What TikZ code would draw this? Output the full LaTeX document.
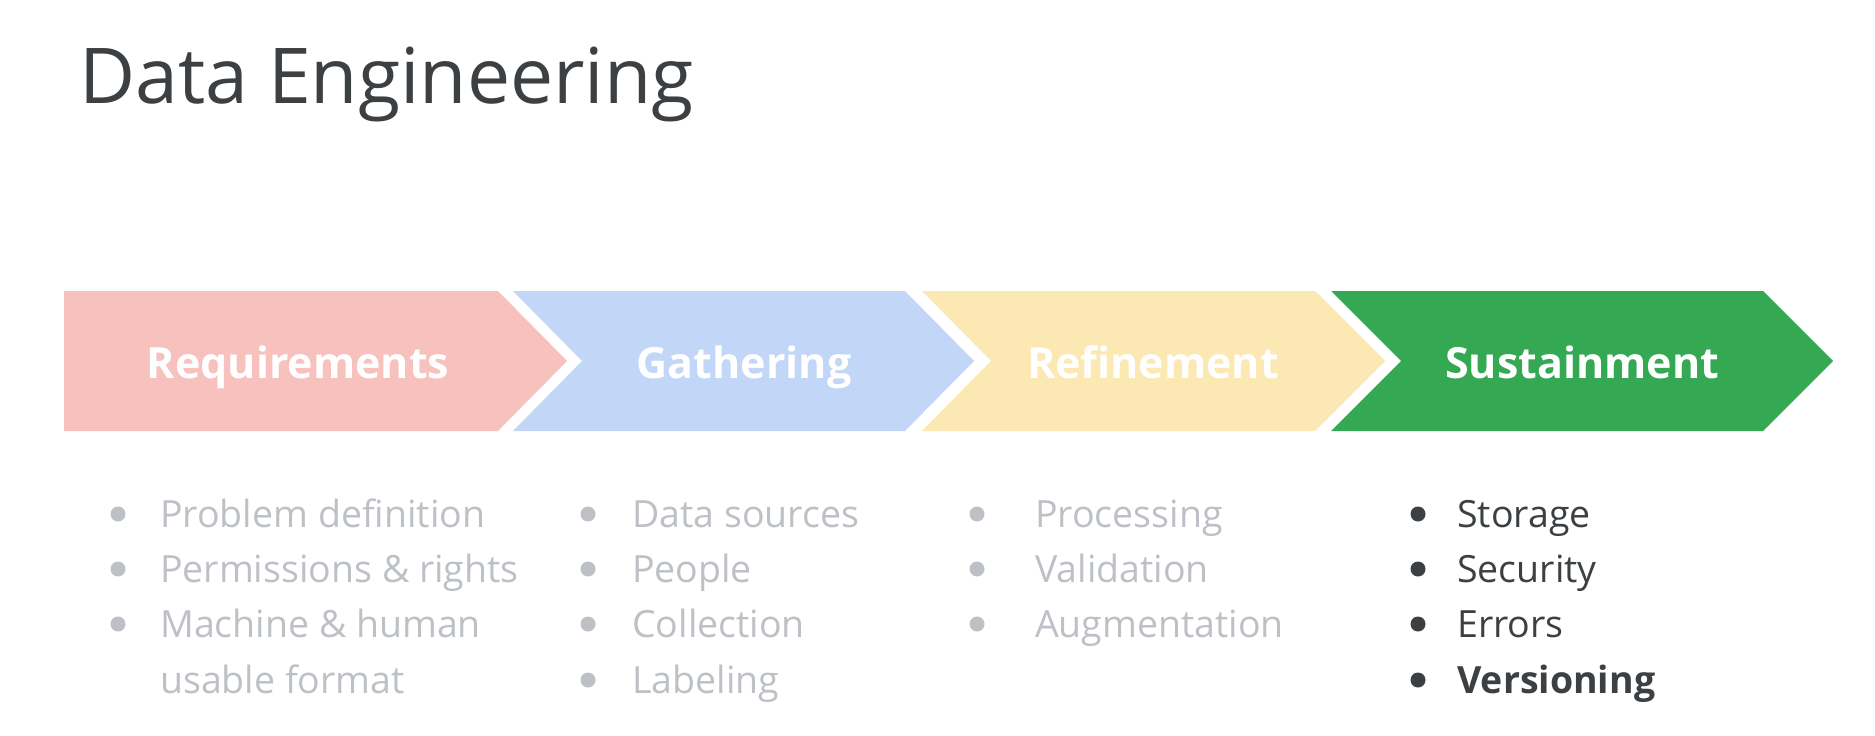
\documentclass[tikz,border=0pt]{standalone}
\usepackage{fontspec}
\setmainfont[Ligatures=NoCommon]{Open Sans}
\definecolor{pinkc}{RGB}{247,193,190}
\definecolor{bluec}{RGB}{194,215,248}
\definecolor{yellowc}{RGB}{252,232,178}
\definecolor{greenc}{RGB}{52,168,83}
\definecolor{graytxt}{RGB}{189,193,198}
\definecolor{darktxt}{RGB}{60,64,67}
\begin{document}
\begin{tikzpicture}[x=1pt,y=-1pt,
  titletext/.style={anchor=base west,inner sep=0pt,font=\fontsize{77}{92}\selectfont,text=darktxt},
  chevlabel/.style={anchor=base,inner sep=0pt,font=\bfseries\fontsize{43}{52}\selectfont,text=white},
  item/.style={anchor=base west,inner sep=0pt,font=\fontsize{37.5}{45}\selectfont,text=graytxt},
  itemdark/.style={item,text=darktxt},
  bul/.style={circle,inner sep=0pt,minimum size=15pt,fill=graytxt},
  buldark/.style={bul,fill=darktxt}]
\useasboundingbox (0,0) rectangle (1875,736);
\fill[white] (0,0) rectangle (1875,736);
\node[titletext] (title) at (79,103) {Data Engineering};
% chevrons
\fill[pinkc] (64,291) -- (498,291) -- (567,361) -- (498,431) -- (64,431) -- cycle;
\fill[bluec] (513,291) -- (905,291) -- (974,361) -- (905,431) -- (513,431) -- (582,361) -- cycle;
\fill[yellowc] (922,291) -- (1315,291) -- (1385,361) -- (1315,431) -- (922,431) -- (991,361) -- cycle;
\fill[greenc] (1331,291) -- (1763,291) -- (1833,361) -- (1763,431) -- (1331,431) -- (1401,361) -- cycle;
\node[chevlabel] (req) at (298,378) {Requirements};
\node[chevlabel] (gat) at (744,378) {Gathering};
\node[chevlabel] (ref) at (1153,378) {Refinement};
\node[chevlabel] (sus) at (1582,378) {Sustainment};
% column 1
\node[bul] (b11) at (118,514) {};
\node[item] (t11) at (160,527) {Problem definition};
\node[bul] (b12) at (118,569) {};
\node[item] (t12) at (160,582) {Permissions \& rights};
\node[bul] (b13) at (118,624) {};
\node[item] (t13) at (160,637) {Machine \& human};
\node[item] (t14) at (160,693) {usable format};
% column 2
\node[bul] (b21) at (588,514) {};
\node[item] (t21) at (632,527) {Data sources};
\node[bul] (b22) at (588,569) {};
\node[item] (t22) at (632,582) {People};
\node[bul] (b23) at (588,624) {};
\node[item] (t23) at (632,637) {Collection};
\node[bul] (b24) at (588,680) {};
\node[item] (t24) at (632,693) {Labeling};
% column 3
\node[bul] (b31) at (977,514) {};
\node[item] (t31) at (1035,527) {Processing};
\node[bul] (b32) at (977,569) {};
\node[item] (t32) at (1035,582) {Validation};
\node[bul] (b33) at (977,624) {};
\node[item] (t33) at (1035,637) {Augmentation};
% column 4
\node[buldark] (b41) at (1418,514) {};
\node[itemdark] (t41) at (1457,527) {Storage};
\node[buldark] (b42) at (1418,569) {};
\node[itemdark] (t42) at (1457,582) {Security};
\node[buldark] (b43) at (1418,624) {};
\node[itemdark] (t43) at (1457,637) {Errors};
\node[buldark] (b44) at (1418,680) {};
\node[itemdark,font=\bfseries\fontsize{37.5}{45}\selectfont] (t44) at (1457,693) {Versioning};
\end{tikzpicture}
\end{document}
